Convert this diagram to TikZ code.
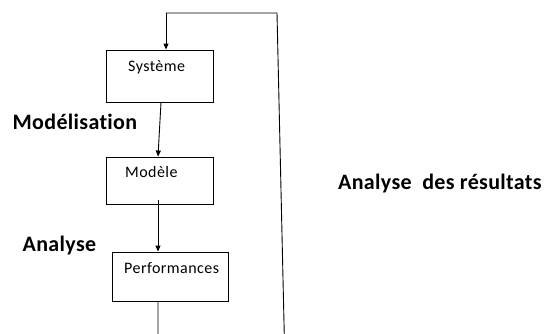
\documentclass[tikz,border=0pt]{standalone}
\usepackage{fontspec}
\setmainfont{Carlito}[Ligatures=NoCommon]
\newfontfamily\stagefont{Carlito}[Ligatures=NoCommon, LetterSpace=2.8]
\newfontfamily\phasefont{Carlito}[Ligatures=NoCommon, LetterSpace=1.5]
\usetikzlibrary{arrows.meta}
\tikzset{
  box/.style={draw=black, line width=0.9pt, rectangle, inner sep=0pt},
  boxtext/.style={anchor=base west, inner sep=0pt, font=\stagefont\fontsize{16}{18}\selectfont},
  phase/.style={anchor=base west, inner sep=0pt, font=\phasefont\fontsize{22}{26}\selectfont\bfseries},
  flow/.style={draw=black, line width=0.9pt, -{Triangle[length=6pt,width=5pt]}},
  wire/.style={draw=black, line width=0.9pt}
}
\begin{document}
\begin{tikzpicture}[x=1pt, y=-1pt]
  \useasboundingbox (0,0) rectangle (544,333);

  % three stages of the process
  \node[box, minimum width=107pt, minimum height=52pt] (sys)  at (159.5,76) {};
  \node[box, minimum width=107pt, minimum height=47pt] (mod)  at (159.5,180.5) {};
  \node[box, minimum width=116pt, minimum height=49pt] (perf) at (170,276.5) {};

  \node[boxtext] (tsys)  at (128,71)  {Système};
  \node[boxtext] (tmod)  at (125,177.5) {Modèle};
  \node[boxtext] (tperf) at (124,273) {Performances};

  % phase labels
  \node[phase] (lmod) at (12.5,129) {Modélisation};
  \node[phase] (lana) at (22.5,251) {Analyse};
  \node[phase] (lres) at (338,189) {Analyse\ \ des résultats};

  % feedback loop corners
  \coordinate (down)  at (158,345);
  \coordinate (right) at (284.5,345);
  \coordinate (top)   at (277,13);
  \coordinate (topl)  at (166,13);

  % connectors
  \draw[flow] (sys.south -| 161,0) -- (mod.north -| 158,0);
  \draw[flow] (158,200) -- (perf.north -| 158,0);
  \draw[wire] (perf.south -| 158,0) -- (down) -- (right) -- (top) -- (topl);
  \draw[flow] (topl) -- (sys.north -| topl);
\end{tikzpicture}
\end{document}
